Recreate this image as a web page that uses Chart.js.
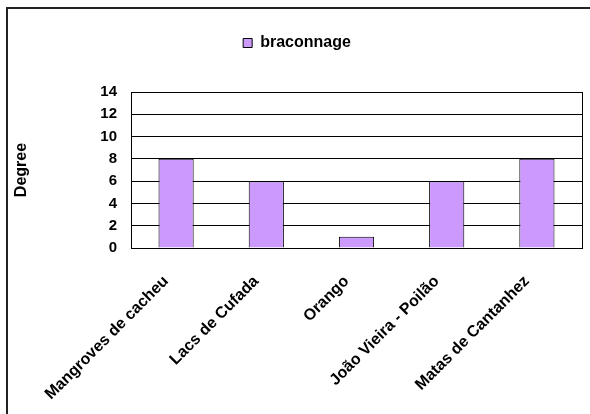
<!DOCTYPE html>
<html>
<head>
<meta charset="utf-8">
<script src="https://cdn.jsdelivr.net/npm/chart.js@4/dist/chart.umd.min.js"></script>
<style>
  html, body { margin: 0; padding: 0; background: #fff; overflow: hidden; }
  #wrap { position: relative; width: 590px; height: 414px; }
  #frame { position: absolute; left: 6px; top: 7px; width: 700px; height: 500px; border: 2px solid #222; pointer-events: none; }
</style>
</head>
<body>
<div id="wrap">
  <canvas id="chart" width="590" height="414"></canvas>
  <div id="frame"></div>
</div>
<script>
const categories = ["Mangroves de cacheu", "Lacs de Cufada", "Orango", "João Vieira - Poilão", "Matas de Cantanhez"];
const braconnage = [8, 6, 1, 6, 8];
const yMin = 0;
const yMax = 14;
const yStep = 2;

const font = "'Liberation Sans', Arial, sans-serif";

const config = {
  type: "bar",
  data: {
    labels: categories,
    datasets: [
      {
        label: "braconnage",
        data: braconnage,
        backgroundColor: "#cc99ff",
        borderColor: "#000",
        borderWidth: 1,
        barPercentage: 0.39,
        categoryPercentage: 1,
      },
    ],
  },
  options: {
    responsive: false,
    animation: false,
    layout: { padding: { top: 25, right: 8, left: 12, bottom: 0 } },
    plugins: {
      tooltip: { enabled: false },
      legend: {
        position: "top",
        labels: {
          boxWidth: 9,
          boxHeight: 9,
          padding: 10,
          color: "#000",
          font: { family: font, size: 16, weight: "bold" },
        },
      },
    },
    scales: {
      x: {
        grid: { display: false },
        border: { color: "#000", width: 1 },
        ticks: {
          color: "#000",
          maxRotation: 45,
          minRotation: 45,
          padding: 16,
          labelOffset: -10,
          font: { family: font, size: 16, weight: "bold" },
        },
        afterFit: (scale) => { scale.height = 166; },
      },
      // empty band between the legend and the plot
      xTop: {
        type: "category",
        position: "top",
        grid: { display: false, drawTicks: false },
        border: { display: false },
        ticks: { display: false },
        afterFit: (scale) => { scale.height = 31; },
      },
      y: {
        min: yMin,
        max: yMax,
        ticks: {
          stepSize: yStep,
          color: "#000",
          padding: 14,
          font: { family: font, size: 15, weight: "bold" },
        },
        grid: { color: "#000", lineWidth: 1, drawTicks: false },
        border: { color: "#000", width: 1 },
        title: {
          display: true,
          text: "Degree",
          color: "#000",
          padding: { top: 0, bottom: 0 },
          font: { family: font, size: 16, weight: "bold" },
        },
        afterFit: (scale) => { scale.width = 119; },
      },
      yRight: {
        position: "right",
        min: yMin,
        max: yMax,
        ticks: { display: false },
        grid: { display: false, drawTicks: false },
        border: { color: "#000", width: 1 },
        afterFit: (scale) => { scale.width = 0; },
      },
    },
  },
};

const myCanvasChart = new Chart(document.getElementById("chart"), config);
</script>
</body>
</html>
